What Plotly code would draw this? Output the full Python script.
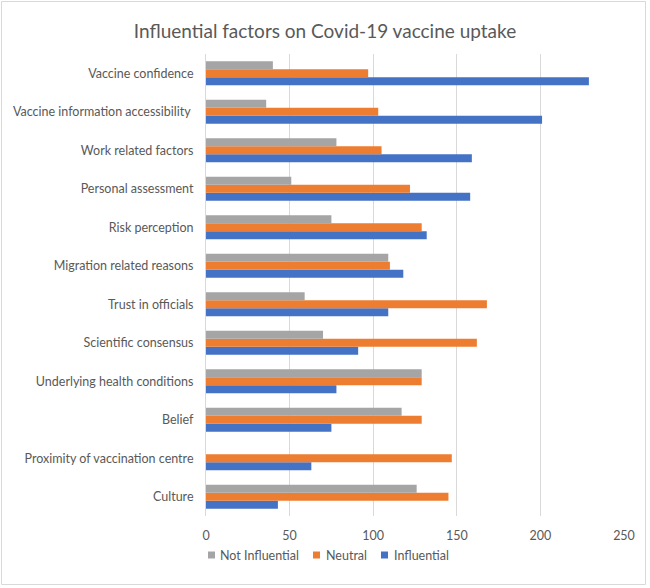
import plotly.graph_objects as go

categories = [
    "Vaccine confidence",
    "Vaccine information accessibility ",
    "Work related factors",
    "Personal assessment",
    "Risk perception",
    "Migration related reasons",
    "Trust in officials",
    "Scientific consensus",
    "Underlying health conditions",
    "Belief",
    "Proximity of vaccination centre",
    "Culture",
]
not_influential = [40, 36, 78, 51, 75, 109, 59, 70, 129, 117, 0, 126]
neutral = [97, 103, 105, 122, 129, 110, 168, 162, 129, 129, 147, 145]
influential = [229, 201, 159, 158, 132, 118, 109, 91, 78, 75, 63, 43]
x_ticks = [0, 50, 100, 150, 200, 250]

series_names = ["Not Influential", "Neutral", "Influential"]
series_colors = ["#A5A5A5", "#ED7D31", "#4472C4"]

W, H = 650, 588
L, R, T, B = 206, 26, 54, 72
pw, ph = W - L - R, H - T - B

def px_x(p):
    return (p - L) / pw

def px_y(p):
    return (H - B - p) / ph

fig = go.Figure()
for name, vals, col in [("Influential", influential, series_colors[2]),
                        ("Neutral", neutral, series_colors[1]),
                        ("Not Influential", not_influential, series_colors[0])]:
    fig.add_trace(go.Bar(y=categories, x=vals, name=name, orientation="h",
                         marker=dict(color=col, line=dict(width=0)), showlegend=False))

font_family = "Lato, Open Sans, sans-serif"

shapes = [dict(type="rect", xref="paper", yref="paper",
               x0=px_x(1.5), x1=px_x(645.5), y0=px_y(1.5), y1=px_y(584.5),
               line=dict(color="#D9D9D9", width=1), fillcolor="rgba(0,0,0,0)", layer="below")]
annotations = []
legend_sq_x = [208, 313, 381]
legend_txt_x = [218, 324, 392]
ly = 555
for name, col, sx, tx in zip(series_names, series_colors, legend_sq_x, legend_txt_x):
    shapes.append(dict(type="rect", xref="paper", yref="paper",
                       x0=px_x(sx), x1=px_x(sx + 7), y0=px_y(ly + 3.5), y1=px_y(ly - 3.5),
                       line=dict(width=0), fillcolor=col))
    annotations.append(dict(text=name, xref="paper", yref="paper", x=px_x(tx), y=px_y(ly),
                            xanchor="left", yanchor="middle", showarrow=False,
                            font=dict(size=12.5, color="#595959", family=font_family)))

fig.update_layout(
    width=W, height=H,
    margin=dict(l=L, r=R, t=T, b=B),
    paper_bgcolor="white", plot_bgcolor="white",
    barmode="group", bargap=0.38, bargroupgap=0,
    font=dict(family=font_family, color="#595959", size=12),
    title=dict(text="Influential factors on Covid-19 vaccine uptake",
               x=0.5, xanchor="center", y=1 - 31 / H, yanchor="middle",
               font=dict(size=19, color="#595959", family=font_family)),
    xaxis=dict(range=[0, 250], tickvals=x_ticks, showgrid=True, gridcolor="#D9D9D9",
               gridwidth=1, zeroline=False, showline=False, ticks="", ticklabelstandoff=10,
               tickfont=dict(size=12.5, color="#595959"), fixedrange=True),
    yaxis=dict(categoryorder="array", categoryarray=list(reversed(categories)),
               showgrid=False, zeroline=False, showline=True, linecolor="#D9D9D9",
               linewidth=1, ticks="", ticklabelstandoff=9,
               tickfont=dict(size=12.5, color="#595959"), fixedrange=True),
    showlegend=False,
    shapes=shapes,
    annotations=annotations,
)

fig.write_html("out.html")
